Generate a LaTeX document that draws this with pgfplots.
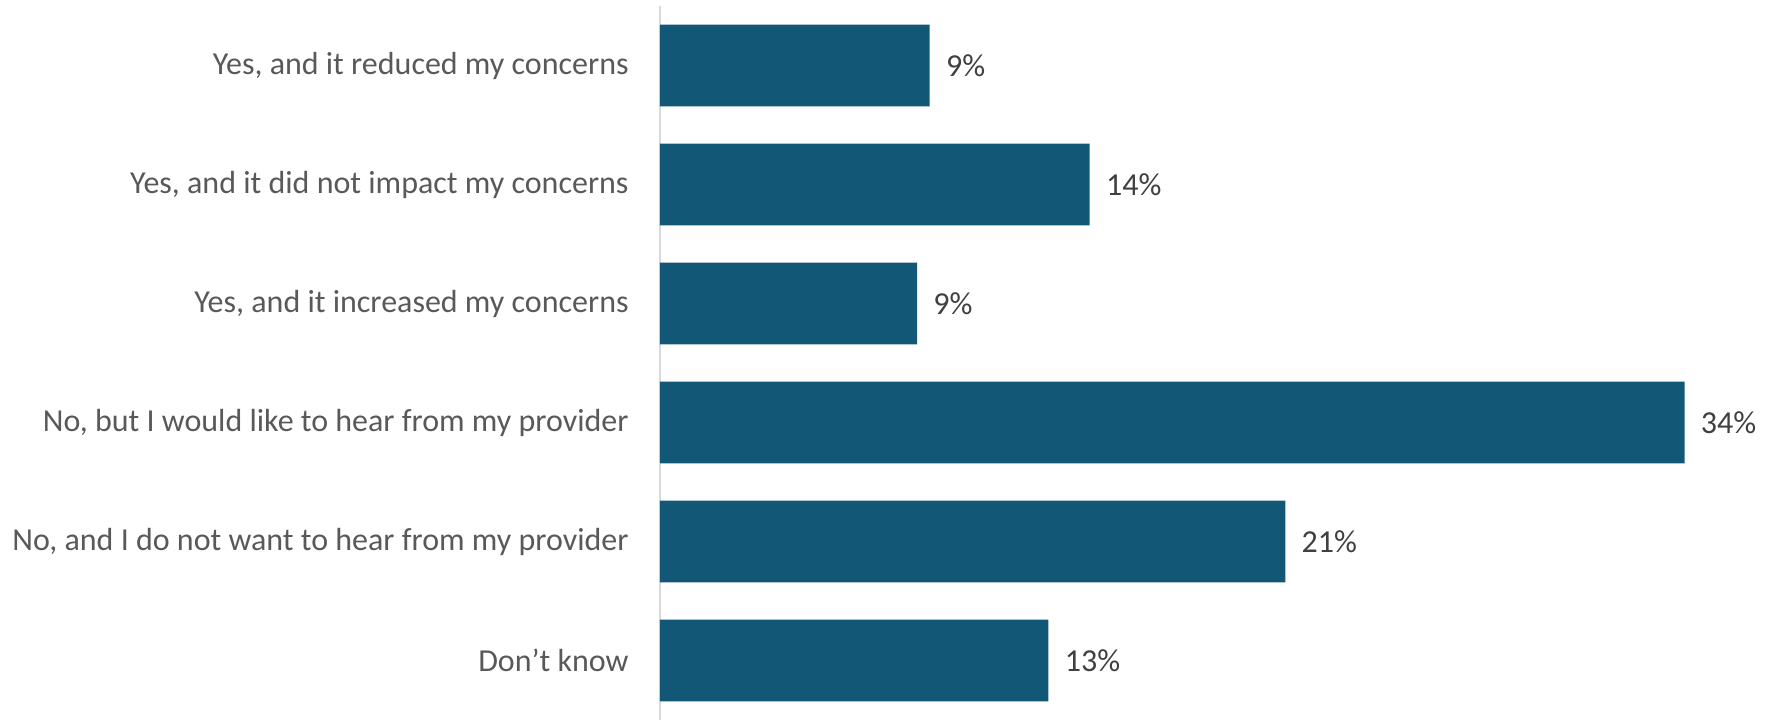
\documentclass[border=0pt]{standalone}
\usepackage{fontspec}
\setmainfont{Carlito}
\usepackage{pgfplots}
\pgfplotsset{compat=1.18}
\definecolor{barblue}{HTML}{125876}
\definecolor{labgray}{HTML}{595959}
\definecolor{valgray}{HTML}{404040}
\definecolor{axgray}{HTML}{D9D9D9}
\begin{document}
\begin{tikzpicture}
\useasboundingbox (-330pt,0pt) rectangle (557.5pt,360pt);
\begin{axis}[
  at={(0pt,0pt)}, anchor=south west,
  scale only axis,
  width=557.5pt, height=357pt,
  xbar, bar width=0.686,
  xmin=0, xmax=37,
  ymin=-0.5, ymax=5.5,
  y dir=reverse,
  ytick={0,1,2,3,4,5},
  yticklabels={{Yes, and it reduced my concerns},
               {Yes, and it did not impact my concerns},
               {Yes, and it increased my concerns},
               {No, but I would like to hear from my provider},
               {No, and I do not want to hear from my provider},
               {Don’t know}},
  hide x axis,
  axis y line*=left,
  y axis line style={draw=axgray, line width=1pt, -},
  ytick style={draw=none},
  major tick length=0pt,
  y tick label style={font=\fontsize{16}{19}\selectfont, text=labgray, anchor=east, inner sep=0pt, xshift=-15.5pt},
  /pgf/number format/assume math mode=true,
  nodes near coords={\pgfmathprintnumber[fixed,precision=0,assume math mode=true]{\pgfplotspointmeta}\%},
  point meta=x,
  every node near coord/.append style={font=\fontsize{16}{19}\selectfont, text=valgray, anchor=west, inner sep=0pt, xshift=8pt},
  clip=false,
]
\addplot[fill=barblue, draw=none] coordinates {
  (8.95,0) (14.26,1) (8.53,2) (34,3) (20.75,4) (12.89,5)
};
\end{axis}
\end{tikzpicture}
\end{document}
